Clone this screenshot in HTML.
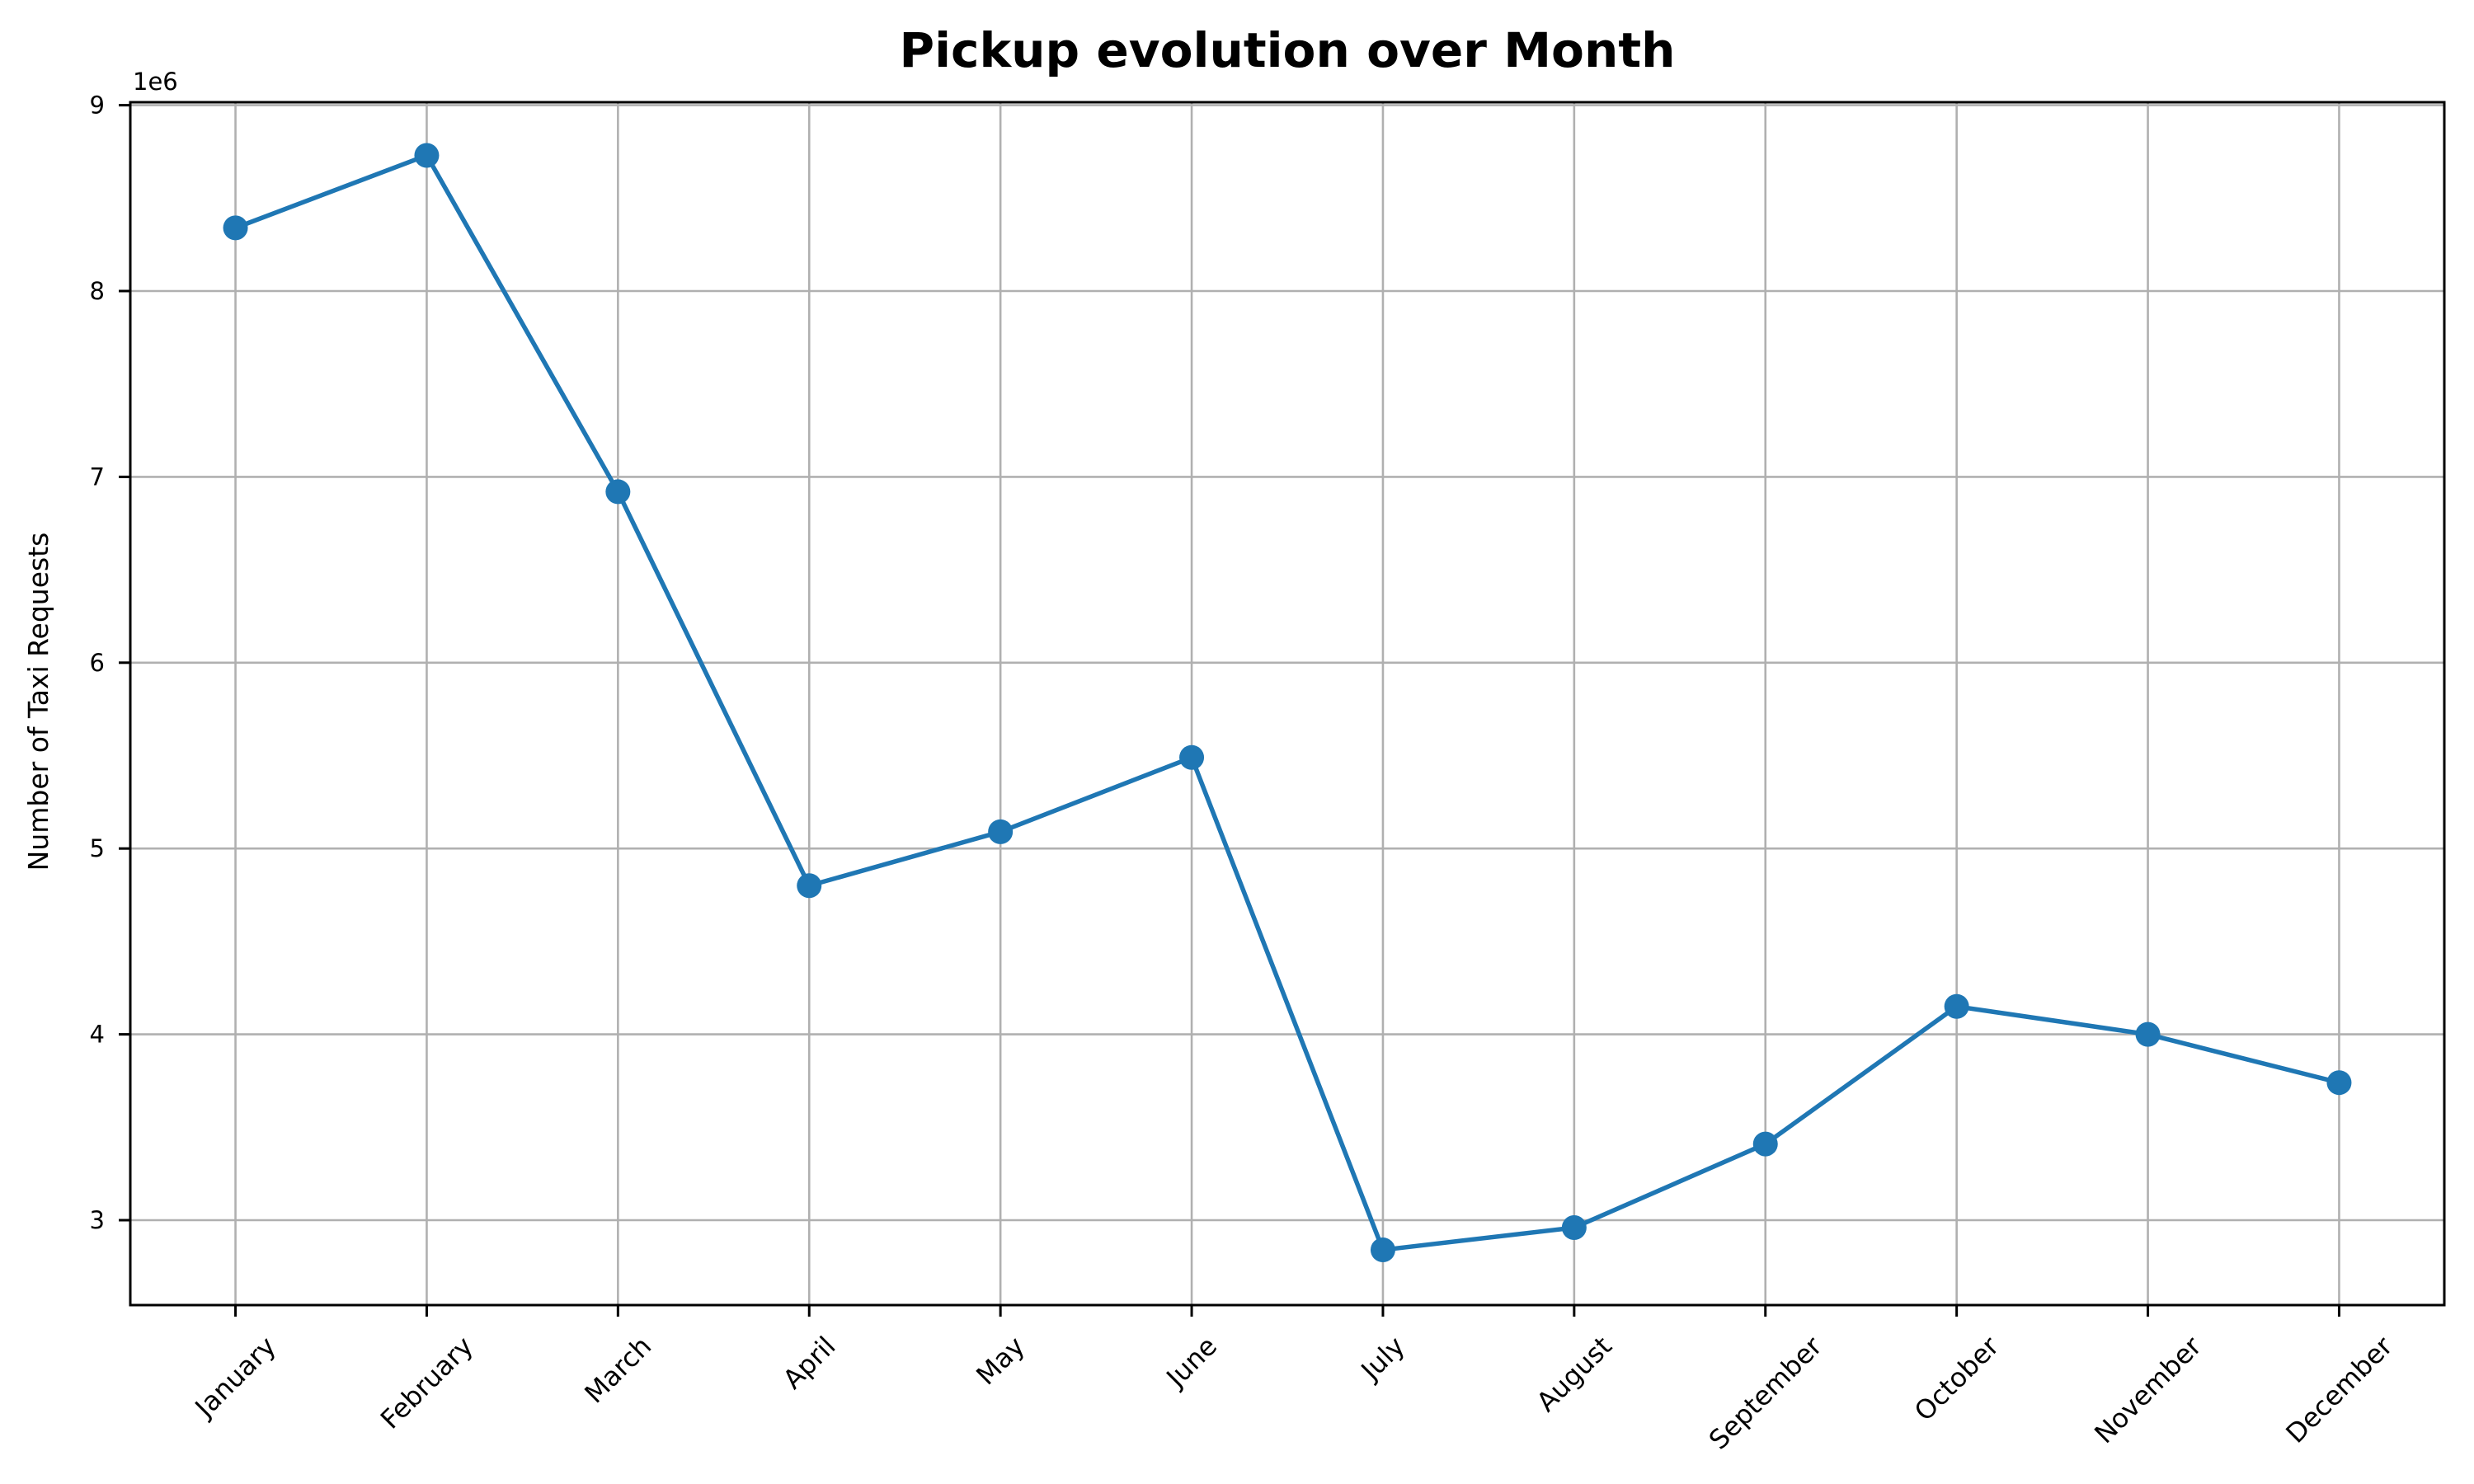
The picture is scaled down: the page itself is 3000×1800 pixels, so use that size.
<!DOCTYPE html>
<html><head><meta charset="utf-8"><style>
html,body{margin:0;padding:0;background:#fff;}
svg{display:block;font-family:"DejaVu Sans","Liberation Sans",sans-serif;}
</style></head><body>
<svg id="chart" width="3000" height="1800" viewBox="0 0 3000 1800" xmlns="http://www.w3.org/2000/svg">
<rect x="0" y="0" width="3000" height="1800" fill="#fff"/>
<text x="1561" y="81" text-anchor="middle" font-size="58" font-weight="bold" textLength="941" lengthAdjust="spacingAndGlyphs">Pickup evolution over Month</text>
<g id="grid"></g>
<g id="axes"></g>
<g id="series"></g>
<text x="161" y="109" font-size="29">1e6</text>
<text transform="translate(58,851) rotate(-90)" text-anchor="middle" font-size="33">Number of Taxi Requests</text>
</svg>
<script>
const months = ["January","February","March","April","May","June","July","August","September","October","November","December"];
const pickups = [8.34,8.73,6.92,4.80,5.09,5.49,2.84,2.96,3.41,4.15,4.00,3.74];
const yTicks = [3,4,5,6,7,8,9];
const yTickLabels = ["3","4","5","6","7","8","9"];

const NS="http://www.w3.org/2000/svg";
const L=158,R=2964,T=124,B=1583;
const xMin=-0.55,xMax=11.55,yMin=2.543,yMax=9.016;
function xs(i){return L+(i-xMin)/(xMax-xMin)*(R-L);}
function ys(v){return B-(v-yMin)/(yMax-yMin)*(B-T);}
function mk(tag,attrs,parent){const e=document.createElementNS(NS,tag);for(const k in attrs)e.setAttribute(k,attrs[k]);parent.appendChild(e);return e;}
const grid=document.getElementById('grid'),axes=document.getElementById('axes'),series=document.getElementById('series');

yTicks.forEach((v,i)=>{
  const y=ys(v);
  const g=mk('line',{x1:L,x2:R,y1:y,y2:y,stroke:'#b0b0b0','stroke-width':2.6},grid);
  
  
  const t=mk('line',{x1:L-14,x2:L,y1:y,y2:y,stroke:'#000','stroke-width':3},axes);
  
  
  const lb=mk('text',{x:127,y:y,'text-anchor':'end','dominant-baseline':'central','font-size':29},axes);
  lb.textContent=yTickLabels[i];
  
  
});
months.forEach((m,i)=>{
  const x=xs(i);
  const g=mk('line',{x1:x,x2:x,y1:T,y2:B,stroke:'#b0b0b0','stroke-width':2.6},grid);
  
  
  const t=mk('line',{x1:x,x2:x,y1:B,y2:B+14,stroke:'#000','stroke-width':3},axes);
  
  
  const lb=mk('text',{'text-anchor':'middle','dominant-baseline':'central','font-size':32},axes);
  lb.textContent=m;
  
  
  const w=lb.getComputedTextLength();
  const h=(w+34)*0.7071;
  const cy=1615+h/2;
  lb.setAttribute('transform','translate('+x+','+cy+') rotate(-45)');
});
const frame=mk('rect',{x:L,y:T,width:R-L,height:B-T,fill:'none',stroke:'#000','stroke-width':3},axes);



const pts=pickups.map((v,i)=>xs(i)+','+ys(v)).join(' ');
const line=mk('polyline',{points:pts,fill:'none',stroke:'#1f77b4','stroke-width':5.5,'stroke-linejoin':'round'},series);


pickups.forEach((v,i)=>{
  const c=mk('circle',{cx:xs(i),cy:ys(v),r:15,fill:'#1f77b4'},series);
  
  
});
</script>
</body></html>
